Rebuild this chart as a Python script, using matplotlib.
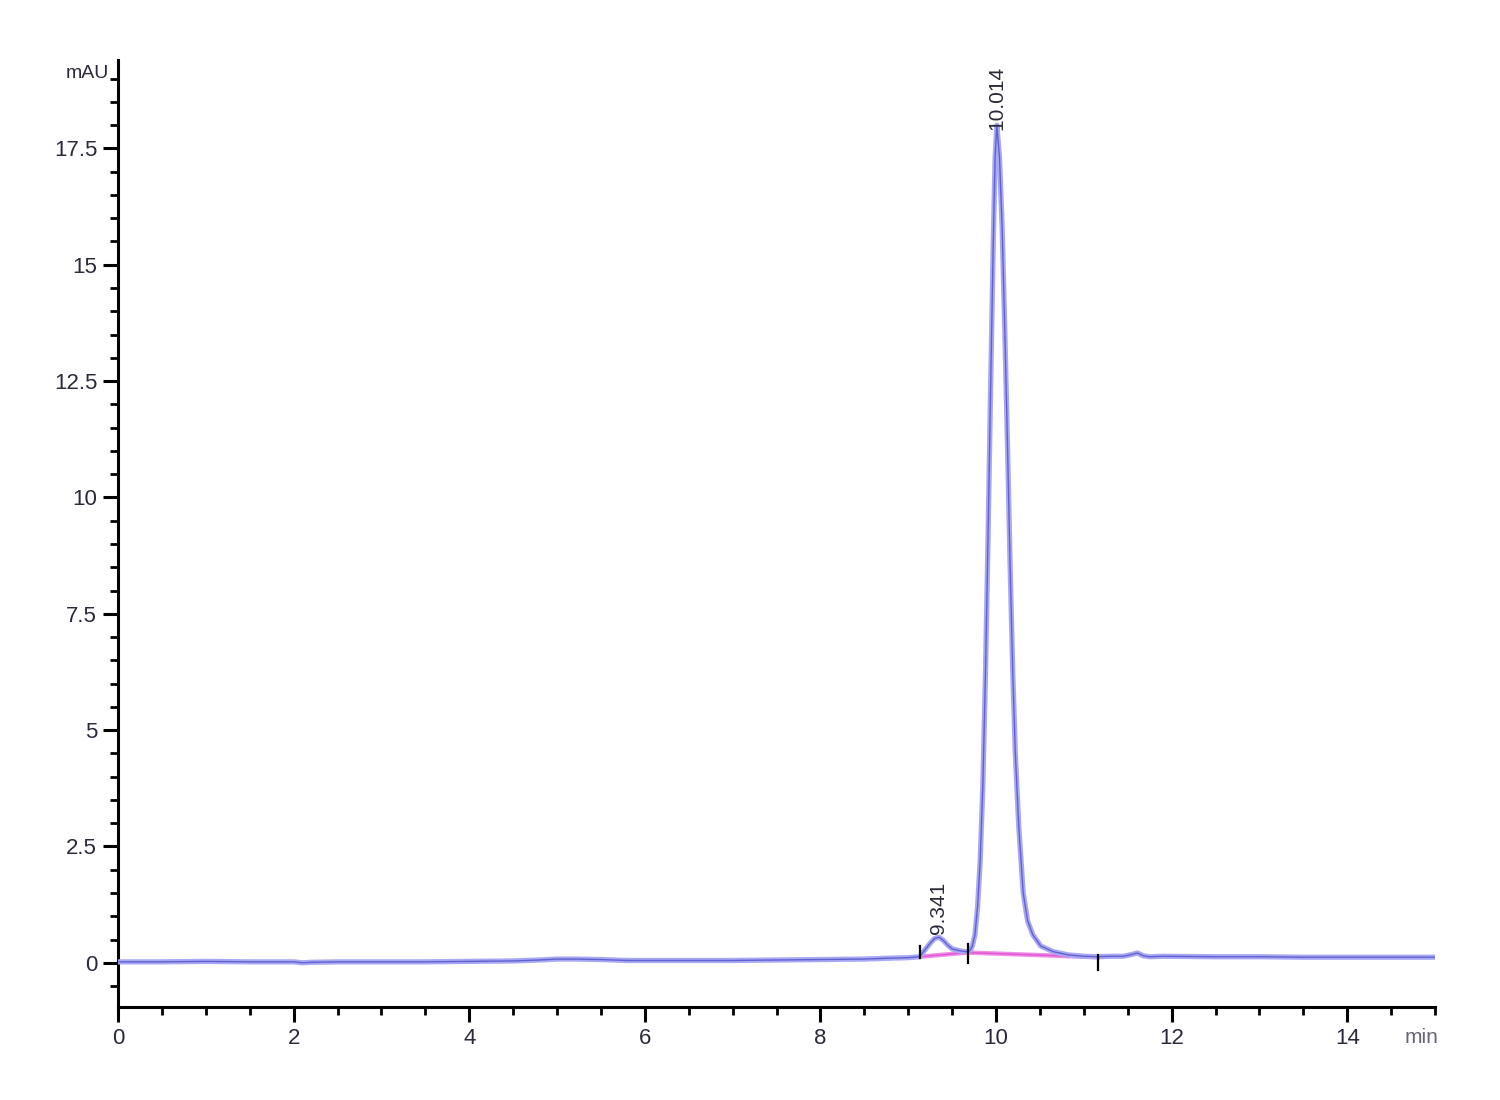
import matplotlib
matplotlib.use("Agg")
import matplotlib.pyplot as plt
from matplotlib.ticker import MultipleLocator, FixedLocator
import matplotlib.font_manager as fm

# ---- data ----
time_min = [0.0, 0.5, 1.0, 1.5, 2.0, 2.1, 2.2, 2.5, 3.0, 3.5, 4.0, 4.5, 4.8, 5.0,
            5.2, 5.5, 5.8, 6.0, 6.5, 7.0, 7.5, 8.0, 8.5, 8.8, 9.0, 9.13,
            9.2, 9.25, 9.30, 9.35, 9.40, 9.45, 9.50, 9.58, 9.65,
            9.68, 9.71, 9.73, 9.76, 9.79, 9.82, 9.85, 9.88, 9.91, 9.94, 9.97, 9.99,
            10.01, 10.04, 10.07, 10.10, 10.13, 10.16, 10.19, 10.22, 10.26, 10.31,
            10.36, 10.42, 10.51, 10.65, 10.82, 11.0, 11.16, 11.3, 11.45, 11.55,
            11.61, 11.68, 11.75, 11.9, 12.5, 13.0, 13.5, 14.0, 14.5, 15.0]
signal_mau = [0.02, 0.02, 0.03, 0.02, 0.02, 0.0, 0.01, 0.02, 0.02, 0.02, 0.03, 0.04, 0.06, 0.08,
              0.08, 0.07, 0.05, 0.05, 0.05, 0.05, 0.06, 0.07, 0.08, 0.10, 0.11, 0.13,
              0.30, 0.42, 0.52, 0.55, 0.48, 0.38, 0.30, 0.26, 0.24,
              0.24, 0.28, 0.36, 0.6, 1.2, 2.2, 3.8, 6.2, 9.2, 12.5, 15.6, 17.3,
              18.0, 17.3, 15.8, 13.6, 11.2, 8.6, 6.3, 4.5, 2.9, 1.5,
              0.9, 0.6, 0.36, 0.24, 0.17, 0.14, 0.13, 0.14, 0.14, 0.18,
              0.21, 0.15, 0.13, 0.14, 0.13, 0.13, 0.12, 0.12, 0.12, 0.12]

peak_times = [9.341, 10.014]
peak_labels = ["9.341", "10.014"]
peak_label_base = [0.62, 17.9]

# integration baselines (start time, start value, end time, end value)
base_seg_t = [[9.13, 9.68], [9.68, 11.16]]
base_seg_v = [[0.13, 0.22], [0.22, 0.12]]
# integration event marks: time, y low, y high
mark_t = [9.13, 9.68, 11.16]
mark_lo = [0.10, 0.0, -0.15]
mark_hi = [0.37, 0.41, 0.17]

y_major = [0, 2.5, 5, 7.5, 10, 12.5, 15, 17.5]
y_major_labels = ["0", "2.5", "5", "7.5", "10", "12.5", "15", "17.5"]
x_major = [0, 2, 4, 6, 8, 10, 12, 14]

names = {f.name for f in fm.fontManager.ttflist}
fam = ['Liberation Sans Narrow', 'Liberation Sans', 'DejaVu Sans']
fam = [f for f in fam if f in names] or ['DejaVu Sans']
plt.rcParams['font.family'] = fam

txt_col = '#2a2a38'

fig = plt.figure(figsize=(15, 11), dpi=100)
ax = fig.add_axes([118/1500, 1 - 1007/1100, (1435-118)/1500, (1007-60)/1100])

ax.plot(time_min, signal_mau, color='#a8a8f4', lw=3.8, solid_joinstyle='round', zorder=3)
ax.plot(time_min, signal_mau, color='#1c1ca8', lw=1.0, alpha=0.5, zorder=4)

for ts, vs in zip(base_seg_t, base_seg_v):
    ax.plot(ts, vs, color='#f08ce6', lw=3.2, zorder=2)
    ax.plot(ts, vs, color='#d633c8', lw=1.0, alpha=0.6, zorder=2)

for t, lo, hi in zip(mark_t, mark_lo, mark_hi):
    ax.plot([t, t], [lo, hi], color='black', lw=1.6, zorder=5)

for t, lab, yb in zip(peak_times, peak_labels, peak_label_base):
    ax.text(t, yb, lab, rotation=90, ha='center', va='bottom', fontsize=15,
            color=txt_col, zorder=6)

ax.set_xlim(0, 15)
ax.set_ylim(-0.95, 19.4)

ax.spines['top'].set_visible(False)
ax.spines['right'].set_visible(False)
for s in ['left', 'bottom']:
    ax.spines[s].set_linewidth(2.2)
    ax.spines[s].set_color('black')

ax.xaxis.set_major_locator(FixedLocator(x_major))
ax.xaxis.set_minor_locator(MultipleLocator(0.5))
ax.yaxis.set_major_locator(FixedLocator(y_major))
ax.set_yticklabels(y_major_labels)
ax.yaxis.set_minor_locator(MultipleLocator(0.5))

ax.tick_params(axis='both', which='major', direction='out', length=11, width=2.2,
               labelsize=16, labelcolor=txt_col, pad=4)
ax.tick_params(axis='both', which='minor', direction='out', length=6, width=2.0)

ax.text(-0.1, 19.1, "mAU", ha='right', va='center', fontsize=14, color=txt_col,
        clip_on=False)
ax.text(14.85, -1.4, "min", ha='center', va='top', fontsize=15, color='#666677',
        clip_on=False)

fig.savefig("out.png", dpi=100, facecolor='white')
